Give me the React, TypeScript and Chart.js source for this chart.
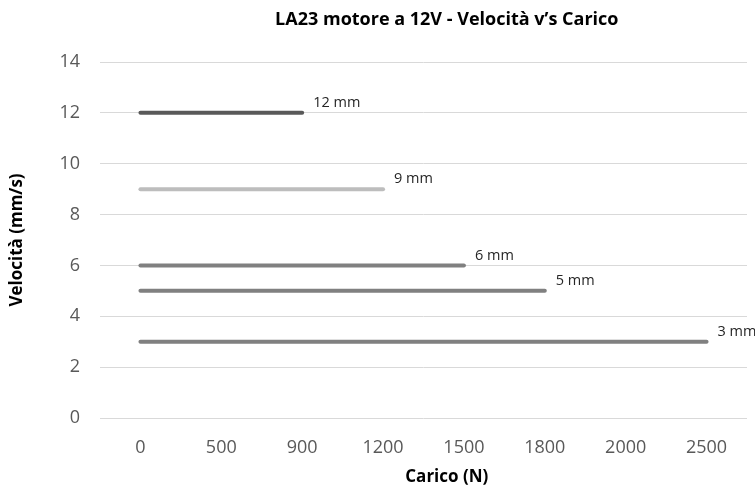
import React, { useEffect, useRef } from "react";
import { Chart, registerables } from "chart.js";

Chart.register(...registerables);

const categories = ["0", "500", "900", "1200", "1500", "1800", "2000", "2500"];
const seriesNames = ["12 mm", "9 mm", "6 mm", "5 mm", "3 mm"];
const speed12 = [12, 12, 12, null, null, null, null, null];
const speed9 = [9, 9, 9, 9, null, null, null, null];
const speed6 = [6, 6, 6, 6, 6, null, null, null];
const speed5 = [5, 5, 5, 5, 5, 5, null, null];
const speed3 = [3, 3, 3, 3, 3, 3, 3, 3];
const seriesColors = ["#595959", "#bdbdbd", "#808080", "#808080", "#808080"];

const titleText = "LA23 motore a 12V - Velocità v’s Carico";
const xTitleText = "Carico (N)";
const yTitleText = "Velocità (mm/s)";

const FONT = "'Open Sans', 'Liberation Sans', sans-serif";

const labelsPlugin = {
  id: "customText",
  afterDatasetsDraw(chart: any) {
    const ctx = chart.ctx;
    const area = chart.chartArea;
    ctx.save();
    // main title
    ctx.fillStyle = "#000000";
    ctx.font = `bold 18px ${FONT}`;
    ctx.textAlign = "center";
    ctx.textBaseline = "middle";
    const cx = area.left + area.width * 0.536;
    ctx.fillText(titleText, cx, 20);
    // x title
    ctx.font = `bold 17px ${FONT}`;
    ctx.fillText(xTitleText, cx, 477);
    // series end labels
    ctx.font = `14.5px ${FONT}`;
    ctx.fillStyle = "#262626";
    ctx.textAlign = "left";
    chart.data.datasets.forEach((ds: any, i: number) => {
      const meta = chart.getDatasetMeta(i);
      let last = -1;
      ds.data.forEach((v: any, j: number) => {
        if (v !== null && v !== undefined) last = j;
      });
      if (last < 0) return;
      const pt = meta.data[last];
      ctx.fillText(ds.label, pt.x + 11, pt.y - 10);
    });
    ctx.restore();
  },
};

export default function App() {
  const canvasRef = useRef<HTMLCanvasElement | null>(null);

  useEffect(() => {
    if (!canvasRef.current) return;
    const allSeries = [speed12, speed9, speed6, speed5, speed3];
    const chart = new Chart(canvasRef.current, {
      type: "line",
      data: {
        labels: categories,
        datasets: allSeries.map((d, i) => ({
          label: seriesNames[i],
          data: d,
          borderColor: seriesColors[i],
          backgroundColor: seriesColors[i],
          borderWidth: 4,
          borderCapStyle: "round" as const,
          pointRadius: 0,
          pointHoverRadius: 0,
          spanGaps: false,
          tension: 0,
        })),
      },
      options: {
        animation: false,
        responsive: false,
        maintainAspectRatio: false,
        layout: { padding: { top: 62, right: 8, bottom: 0, left: 0 } },
        plugins: {
          legend: { display: false },
          title: { display: false },
          tooltip: { enabled: false },
        },
        scales: {
          x: {
            type: "category",
            offset: true,
            grid: { display: false, drawTicks: false },
            border: { display: false },
            ticks: {
              color: "#595959",
              font: { family: FONT, size: 18 },
              padding: 19,
              maxRotation: 0,
              autoSkip: false,
            },
            afterFit(scale: any) {
              scale.height = 73;
            },
          },
          y: {
            min: 0,
            max: 14,
            grid: { color: "#d9d9d9", drawTicks: false, lineWidth: 1 },
            border: { display: false },
            ticks: {
              stepSize: 2,
              color: "#595959",
              font: { family: FONT, size: 18 },
              padding: 20,
            },
            title: {
              display: true,
              text: yTitleText,
              color: "#000000",
              font: { family: FONT, size: 17, weight: "bold" },
              padding: { top: 7, bottom: 0 },
            },
            afterFit(scale: any) {
              scale.width = 100;
            },
          },
        },
      },
      plugins: [labelsPlugin],
    });
    return () => chart.destroy();
  }, []);

  return (
    <div style={{ position: "fixed", left: 0, top: 0, width: 755, height: 491, background: "#ffffff" }}>
      <canvas ref={canvasRef} width={755} height={491} style={{ width: 755, height: 491, display: "block" }} />
    </div>
  );
}
